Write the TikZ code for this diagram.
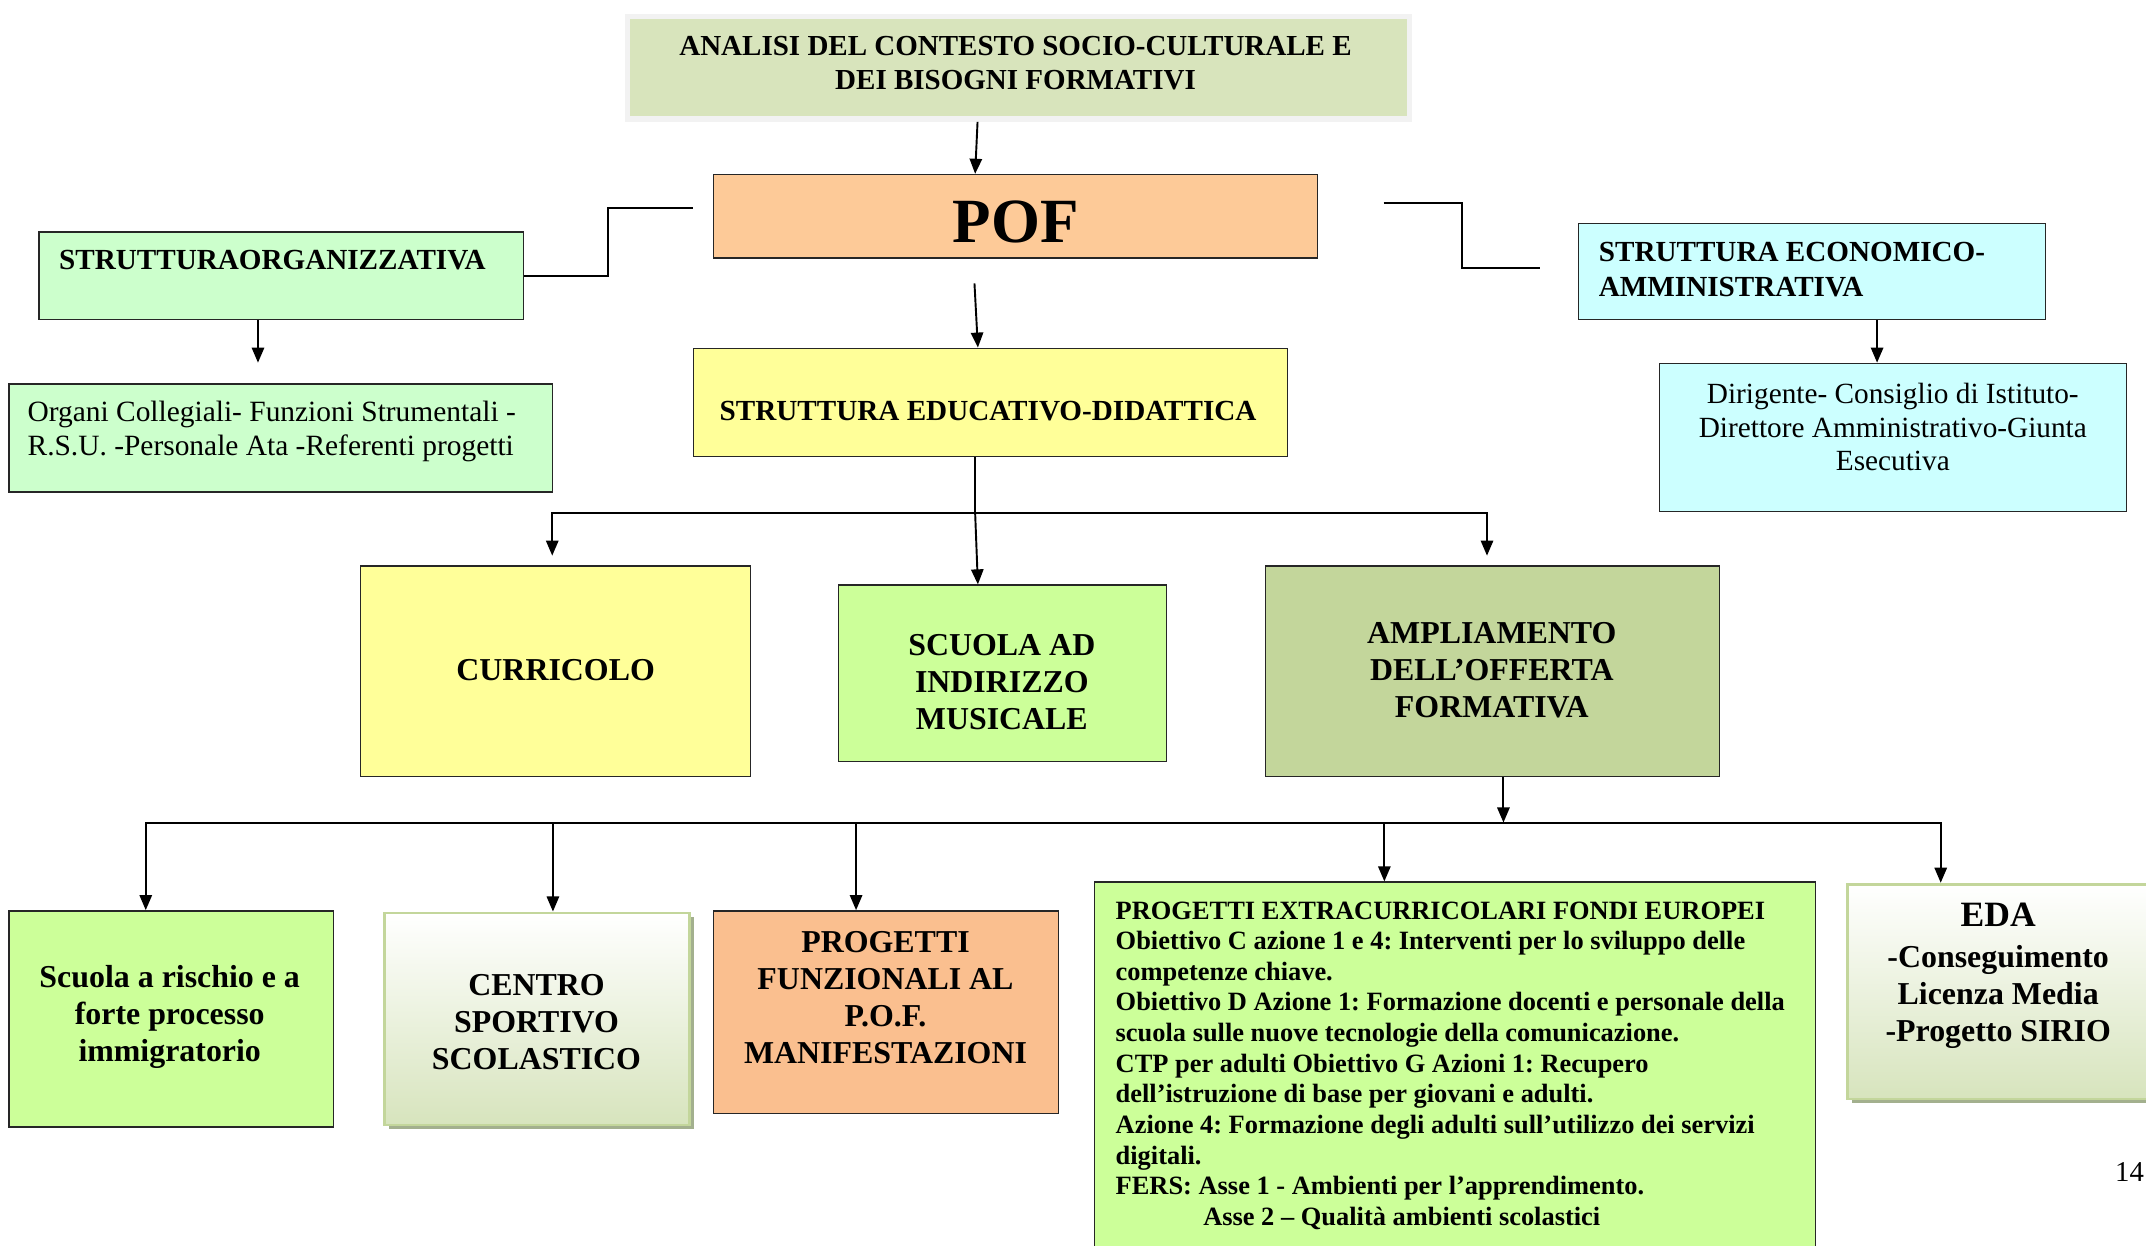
\documentclass[tikz,border=0pt]{standalone}
\usepackage{fontspec}
\setmainfont{Liberation Serif}
\usetikzlibrary{arrows.meta,shadows}
\frenchspacing

\definecolor{topfill}{HTML}{D8E4BC}
\definecolor{topedge}{HTML}{F2F2F2}
\definecolor{pofpeach}{HTML}{FDCA98}
\definecolor{mintgreen}{HTML}{CCFFCC}
\definecolor{palecyan}{HTML}{CCFFFF}
\definecolor{paleyellow}{HTML}{FFFF99}
\definecolor{limegreen}{HTML}{CCFF99}
\definecolor{olivegreen}{HTML}{C3D69B}
\definecolor{salmon}{HTML}{FABF8F}
\definecolor{gradbottom}{HTML}{D7E4BD}
\definecolor{gradedge}{HTML}{C3D69B}
\definecolor{gradshadow}{HTML}{A3B08E}

\newcommand\setfs[2]{\fontsize{#1}{#2}\selectfont}

\begin{document}
\begin{tikzpicture}[x=1pt,y=-1pt,
  box/.style={rectangle, draw=black!85, line width=1pt, inner sep=0pt, anchor=north west},
  gbox/.style={rectangle, draw=gradedge, line width=2pt, inner sep=0pt, anchor=north west,
    top color=white, bottom color=gradbottom,
    drop shadow={shadow xshift=3pt, shadow yshift=-3pt, fill=gradshadow, opacity=1}},
  conn/.style={line width=1.4pt, draw=black},
  arr/.style={conn, -{Triangle[length=11pt,width=9pt]}},
  txt/.style={inner sep=0pt, align=center, text=black},
  bigbold/.style={font=\setfs{23.3}{27}\bfseries},
  midbold/.style={font=\setfs{21.3}{25}\bfseries},
  midreg/.style={font=\setfs{21.4}{24.6}},
]
\useasboundingbox (0,0) rectangle (1568,910);
\clip (0,0) rectangle (1568,910);

% ---------- boxes ----------
\node[box, draw=topedge, line width=4pt, fill=topfill, minimum width=571.5pt, minimum height=75pt] (top) at (456.5,10) {};
\node[box, fill=pofpeach, minimum width=441pt, minimum height=61pt] (pof) at (521,127) {};
\node[box, fill=mintgreen, minimum width=354pt, minimum height=64pt] (org) at (28,169) {};
\node[box, fill=mintgreen, minimum width=397pt, minimum height=79pt] (organi) at (6,280) {};
\node[box, fill=palecyan, minimum width=341pt, minimum height=70pt] (econ) at (1153,163) {};
\node[box, fill=palecyan, minimum width=341pt, minimum height=108pt] (dir) at (1212,265) {};
\node[box, fill=paleyellow, minimum width=434pt, minimum height=79pt] (edu) at (506,254) {};
\node[box, fill=paleyellow, minimum width=285pt, minimum height=154pt] (curr) at (263,413) {};
\node[box, fill=limegreen, minimum width=240pt, minimum height=129pt] (mus) at (612,427) {};
\node[box, fill=olivegreen, minimum width=332pt, minimum height=154pt] (ampl) at (924,413) {};
\node[box, fill=limegreen, minimum width=237pt, minimum height=158pt] (risch) at (6,665) {};
\node[gbox, minimum width=223pt, minimum height=155pt] (centro) at (280,666) {};
\node[box, fill=salmon, minimum width=252pt, minimum height=148pt] (progf) at (521,665) {};
\node[box, fill=limegreen, minimum width=527pt, minimum height=290pt] (extra) at (799,644) {};
\node[gbox, minimum width=240pt, minimum height=157pt] (eda) at (1349,645) {};

% ---------- texts ----------
\node[txt, font=\setfs{21.2}{25}\bfseries] (t-top) at (742,46)
  {ANALISI DEL CONTESTO SOCIO-CULTURALE E\\DEI BISOGNI FORMATIVI};
\node[txt, font=\setfs{46}{50}\bfseries] (t-pof) at (742,162) {POF};
\node[txt, midbold, anchor=west] (t-org) at (43,190) {STRUTTURAORGANIZZATIVA};
\node[txt, font=\setfs{21.5}{25}, align=left, anchor=west] (t-organi) at (20,315)
  {Organi Collegiali- Funzioni Strumentali -\\R.S.U. -Personale Ata -Referenti progetti};
\node[txt, midbold, align=left, anchor=west] (t-econ) at (1168,197)
  {STRUTTURA ECONOMICO-\\AMMINISTRATIVA};
\node[txt, midreg] (t-dir) at (1383,312)
  {Dirigente- Consiglio di Istituto-\\Direttore Amministrativo-Giunta\\Esecutiva};
\node[txt, midbold] (t-edu) at (722,300.5) {STRUTTURA EDUCATIVO-DIDATTICA};
\node[txt, bigbold] (t-curr) at (406,489.5) {CURRICOLO};
\node[txt, bigbold] (t-mus) at (732,498.5) {SCUOLA AD\\INDIRIZZO\\MUSICALE};
\node[txt, bigbold] (t-ampl) at (1090,489.5) {AMPLIAMENTO\\DELL’OFFERTA\\FORMATIVA};
\node[txt, bigbold] (t-risch) at (124,743) {Scuola a rischio e a\\forte processo\\immigratorio};
\node[txt, bigbold] (t-centro) at (392,746.5) {CENTRO\\SPORTIVO\\SCOLASTICO};
\node[txt, bigbold] (t-progf) at (647,729) {PROGETTI\\FUNZIONALI AL\\P.O.F.\\MANIFESTAZIONI};
\node[txt, font=\setfs{19.3}{22.4}\bfseries, align=left, anchor=north west] (t-extra) at (815,658.5)
  {PROGETTI EXTRACURRICOLARI FONDI EUROPEI\\
   Obiettivo C azione 1 e 4: Interventi per lo sviluppo delle\\
   competenze chiave.\\
   Obiettivo D Azione 1: Formazione docenti e personale della\\
   scuola sulle nuove tecnologie della comunicazione.\\
   CTP per adulti Obiettivo G Azioni 1: Recupero\\
   dell’istruzione di base per giovani e adulti.\\
   Azione 4: Formazione degli adulti sull’utilizzo dei servizi\\
   digitali.\\
   FERS: Asse 1 - Ambienti per l’apprendimento.\\
   \hspace*{64pt}Asse 2 – Qualità ambienti scolastici};
\node[txt, bigbold, anchor=north] (t-eda) at (1460,659.4)
  {{\setfs{26}{30}\bfseries EDA}\\[3pt]-Conseguimento\\Licenza Media\\-Progetto SIRIO};
\node[txt, font=\setfs{21}{24}] (t-page) at (1556,856) {14};

% ---------- connectors ----------
\draw[arr] ([xshift=-30pt]top.south) -- ([xshift=-29.5pt]pof.north);

\coordinate (pofgap) at (712,207);
\draw[arr] (pofgap) -- ([xshift=-9pt]edu.north);

\coordinate (lstub) at (506,152);
\draw[conn] (lstub) -- ++(-62,0) |- (org.east);

\coordinate (rstub) at (1011,148);
\coordinate (rend) at (1125,196);
\draw[conn] (rstub) -- ++(57,0) |- (rend);

\draw[arr] ([xshift=-17pt]org.south) -- ([xshift=-16.5pt,yshift=15pt]organi.north);
\draw[arr] ([xshift=47.5pt]econ.south) -- ([xshift=-11.5pt]dir.north);

\draw[conn] ([xshift=-11pt]edu.south) -- ++(0,41) coordinate (bus1);
\draw[arr] (bus1) -| ([xshift=-2.5pt,yshift=7pt]curr.north);
\draw[arr] (bus1) -| ([xshift=-4pt,yshift=7pt]ampl.north);
\draw[arr] (bus1) -- ([xshift=-18pt]mus.north);

\draw[arr] ([xshift=8pt]ampl.south) -- ++(0,33) coordinate (bus2);
\draw[arr] (bus2) -| ([xshift=-18.5pt]risch.north);
\draw[arr] (bus2) -| ([xshift=11.5pt]centro.north);
\draw[arr] (bus2) -| ([xshift=-22pt]progf.north);
\draw[arr] (bus2) -| ([xshift=-51.5pt]extra.north);
\draw[arr] (bus2) -| ([xshift=69pt]eda.north west);
\end{tikzpicture}
\end{document}
